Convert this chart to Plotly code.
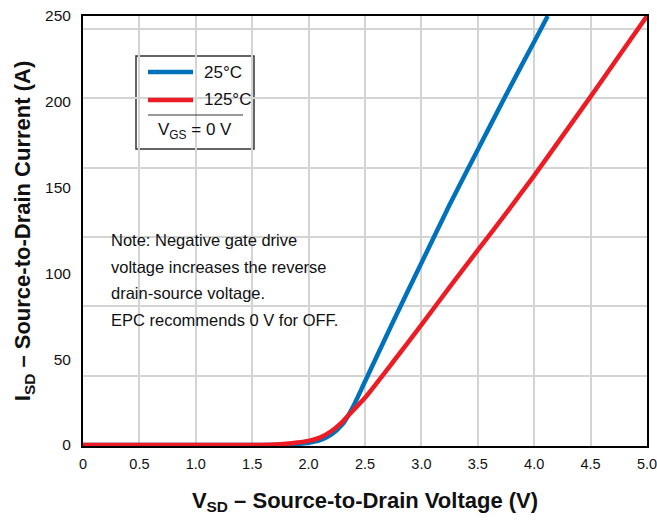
import plotly.graph_objects as go

# Reverse conduction (source-to-drain) characteristic, V_GS = 0 V
v_25 = [0.0, 1.5, 1.8, 1.9, 2.0, 2.1, 2.2, 2.3, 2.35, 2.4, 2.5, 2.75, 3.0, 3.25, 3.5, 3.75, 4.0, 4.12]
i_25 = [0.0, 0.0, 0.2, 0.6, 1.3, 2.8, 6.0, 12.0, 17.0, 23.0, 37.0, 72.0, 106.0, 140.0, 172.0, 204.0, 235.0, 250.0]

v_125 = [0.0, 1.5, 1.7, 1.8, 1.9, 2.0, 2.1, 2.2, 2.3, 2.35, 2.4, 2.5, 2.75, 3.0, 3.25, 3.5, 3.75, 4.0, 4.25, 4.5, 4.75, 5.0]
i_125 = [0.0, 0.0, 0.3, 0.7, 1.4, 2.4, 4.3, 8.0, 13.5, 17.0, 20.5, 27.5, 48.5, 70.0, 92.0, 113.5, 135.0, 157.0, 180.0, 203.0, 226.5, 250.0]

series_names = ["25°C", "125°C"]

x_ticks = [0, 0.5, 1.0, 1.5, 2.0, 2.5, 3.0, 3.5, 4.0, 4.5, 5.0]
x_tick_text = ["0", "0.5", "1.0", "1.5", "2.0", "2.5", "3.0", "3.5", "4.0", "4.5", "5.0"]
y_ticks = [0, 50, 100, 150, 200, 250]
y_tick_text = ["0", "50", "100", "150", "200", "250"]
y_grid = [40.4, 80.8, 121.2, 161.6, 202.0, 242.4]

note_lines = [
    "Note: Negative gate drive",
    "voltage increases the reverse",
    "drain-source voltage.",
    "EPC recommends 0 V for OFF.",
]

BLUE = "#0072BC"
RED = "#ED1C24"
GRID = "#D4D4D4"
INK = "#111111"
FONT = "Liberation Sans, Arial, sans-serif"

# plot-area geometry in pixels, used to place the legend frame and note
W, H = 657, 521
L, R, T, B = 83, 10, 16, 75
PW, PH = W - L - R, H - T - B


def px(x):
    return (x - L) / PW


def py(y):
    return (H - B - y) / PH


fig = go.Figure()
fig.add_trace(go.Scatter(x=v_25, y=i_25, mode="lines", name=series_names[0],
                         line=dict(color=BLUE, width=4.5, shape="spline", smoothing=0.6)))
fig.add_trace(go.Scatter(x=v_125, y=i_125, mode="lines", name=series_names[1],
                         line=dict(color=RED, width=4.5, shape="spline", smoothing=0.6)))

fig.update_layout(
    width=W, height=H,
    margin=dict(l=L, r=R, t=T, b=B, autoexpand=False),
    plot_bgcolor="white", paper_bgcolor="white",
    font=dict(family=FONT, size=16, color=INK),
    showlegend=False,
)

fig.update_xaxes(
    range=[0, 5], tickvals=x_ticks, ticktext=x_tick_text, automargin=False,
    tickfont=dict(family=FONT, size=14.5, color=INK),
    showgrid=True, gridcolor=GRID, gridwidth=1.5,
    showline=True, linecolor="black", linewidth=2, mirror=True,
    ticks="", zeroline=False, ticklabelstandoff=4, ticklabeloverflow="allow",
    title=dict(text="<b>V<sub>SD</sub> – Source-to-Drain Voltage (V)</b>",
               font=dict(family=FONT, size=22, color=INK), standoff=21),
)
fig.update_yaxes(
    range=[-0.6, 250], tickvals=y_ticks, ticktext=y_tick_text, automargin=False,
    tickfont=dict(family=FONT, size=15.5, color=INK),
    showgrid=False,
    minor=dict(tickmode="array", tickvals=y_grid, showgrid=True, gridcolor=GRID, gridwidth=1.5, ticks=""),
    showline=True, linecolor="black", linewidth=2, mirror=True,
    ticks="", zeroline=False, ticklabelstandoff=7,
    title=dict(text="<b>I<sub>SD</sub> – Source-to-Drain Current (A)</b>",
               font=dict(family=FONT, size=22, color=INK), standoff=8),
)

# legend frame with line samples, separator and gate-bias condition
fig.add_shape(type="rect", xref="paper", yref="paper",
              x0=px(136), x1=px(254), y0=py(149), y1=py(56),
              line=dict(color="#333333", width=1.5), fillcolor="white", layer="between")
for name, color, yy in [(series_names[0], BLUE, 72), (series_names[1], RED, 100)]:
    fig.add_shape(type="line", xref="paper", yref="paper",
                  x0=px(148), x1=px(193), y0=py(yy), y1=py(yy),
                  line=dict(color=color, width=4.5))
    fig.add_annotation(xref="paper", yref="paper", x=px(202), y=py(yy),
                       text=name, showarrow=False, xanchor="left", yanchor="middle",
                       font=dict(family=FONT, size=17, color=INK))
fig.add_shape(type="line", xref="paper", yref="paper",
              x0=px(148), x1=px(243), y0=py(115), y1=py(115),
              line=dict(color="#333333", width=1.2))
fig.add_annotation(xref="paper", yref="paper", x=px(195), y=py(131),
                   text="V<sub>GS</sub> = 0 V", showarrow=False,
                   font=dict(family=FONT, size=17, color=INK),
                   xanchor="center", yanchor="middle")

# note on negative gate drive, one line per annotation for wider leading
fig.add_shape(type="rect", xref="paper", yref="paper",
              x0=px(108), x1=px(335), y0=py(343), y1=py(227),
              line=dict(width=0), fillcolor="white", layer="between")
for k, line in enumerate(note_lines):
    fig.add_annotation(xref="paper", yref="paper", x=px(109), y=py(240 + 26.7 * k),
                       text=line, showarrow=False, align="left",
                       xanchor="left", yanchor="middle",
                       font=dict(family=FONT, size=16.5, color=INK))

fig.write_html("out.html")
